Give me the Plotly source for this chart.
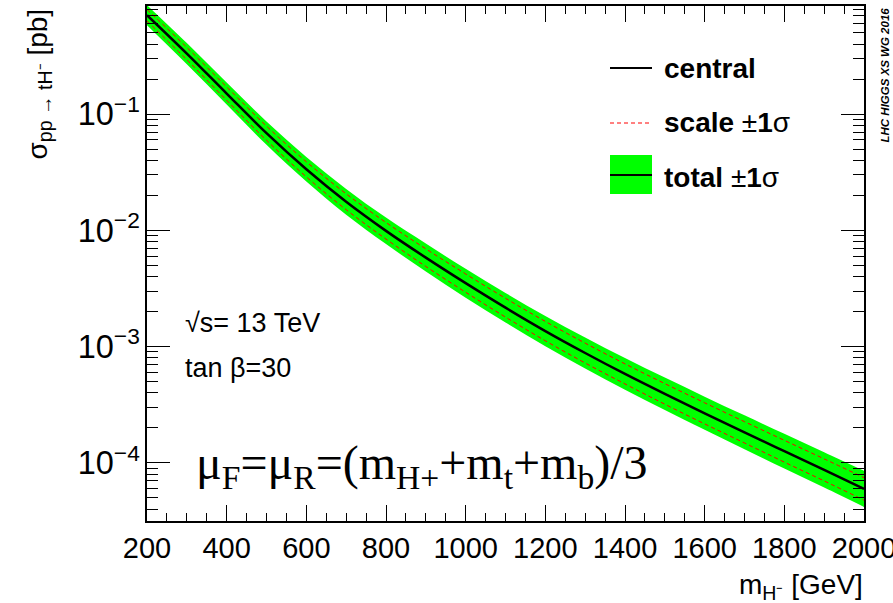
import plotly.graph_objects as go

# ---- data ----
mass = [200, 300, 400, 500, 600, 700, 800, 900, 1000, 1100, 1200, 1300,
        1400, 1500, 1600, 1700, 1800, 1900, 2000]
central = [0.708, 0.331, 0.150, 0.0684, 0.0335, 0.0176, 0.00989, 0.00582,
           0.00351, 0.00216, 0.00136, 0.000881, 0.000582, 0.000392,
           0.000267, 0.000183, 0.000126, 0.0000869, 0.0000597]
# relative uncertainties in percent
total_up_pct = [22, 23, 24.5, 26, 27.5, 29, 30, 32, 33, 34, 35, 36, 37, 38,
                39, 40, 41, 42, 43]
total_dn_pct = [18, 19, 19.5, 20.5, 21.5, 22.5, 23, 24, 25, 25.5, 26, 26.5,
                27, 27.5, 28, 28.5, 29, 29.5, 30]
scale_up_pct = [12, 13, 14, 15, 16, 17, 18, 19, 20, 20.5, 21, 21.5, 22,
                22.5, 23, 23.5, 24, 24.5, 25]
scale_dn_pct = [11, 11.5, 12.5, 13, 14, 14.5, 15, 16, 16.5, 17, 17.5, 18,
                18, 18.5, 19, 19, 19.5, 19.5, 20]

x_ticks = [200, 400, 600, 800, 1000, 1200, 1400, 1600, 1800, 2000]
legend_labels = ["<b>central</b>", "<b>scale</b> ±<b>1</b>σ", "<b>total</b> ±<b>1</b>σ"]

tot_up = [c * (1 + u / 100) for c, u in zip(central, total_up_pct)]
tot_dn = [c * (1 - d / 100) for c, d in zip(central, total_dn_pct)]
sc_up = [c * (1 + u / 100) for c, u in zip(central, scale_up_pct)]
sc_dn = [c * (1 - d / 100) for c, d in zip(central, scale_dn_pct)]

GREEN = "#00ff00"
RED = "#ff0000"
FONT = "Liberation Sans, Arial, sans-serif"

fig = go.Figure()
fig.add_trace(go.Scatter(x=mass, y=tot_dn, mode="lines", line=dict(width=0, shape="spline"),
                         hoverinfo="skip", showlegend=False))
fig.add_trace(go.Scatter(x=mass, y=tot_up, mode="lines", line=dict(width=0, shape="spline"),
                         fill="tonexty", fillcolor=GREEN, showlegend=False))
for ys in (sc_up, sc_dn):
    fig.add_trace(go.Scatter(x=mass, y=ys, mode="lines",
                             line=dict(color=RED, width=1, dash="4px,3px", shape="spline"),
                             showlegend=False))
fig.add_trace(go.Scatter(x=mass, y=central, mode="lines",
                         line=dict(color="black", width=2.5, shape="spline"),
                         showlegend=False))

L, R, T, B = 147, 29, 6, 82
W, H = 893, 603
pw, ph = W - L - R, H - T - B


def px(x):
    return (x - L) / pw


def py(y):
    return (H - B - y) / ph


fig.update_layout(
    width=W, height=H,
    margin=dict(l=L, r=R, t=T, b=B, autoexpand=False),
    paper_bgcolor="white", plot_bgcolor="white",
    showlegend=False,
    font=dict(family=FONT, color="black", size=28),
)
fig.update_xaxes(
    range=[200, 2000], tickvals=x_ticks, ticks="inside", ticklen=16, tickwidth=1,
    tickcolor="black", showline=True, linecolor="black", linewidth=2,
    mirror="ticks", showgrid=False, zeroline=False, ticklabeloverflow="allow",
    automargin=False,
    tickfont=dict(size=29, family=FONT),
    minor=dict(dtick=50, ticks="inside", ticklen=8, tickcolor="black", tickwidth=1, showgrid=False),
)
fig.update_yaxes(
    type="log", range=[-4.5, -0.071], dtick=1, exponentformat="power",
    showexponent="all", ticks="inside", ticklen=23, tickwidth=1,
    tickcolor="black", showline=True, linecolor="black", linewidth=2,
    mirror="ticks", showgrid=False, zeroline=False, automargin=False,
    tickfont=dict(size=26, family=FONT),
    minor=dict(dtick="D1", ticks="inside", ticklen=11, tickcolor="black", tickwidth=1, showgrid=False),
)

shapes = []
ann = []
# legend
lx0, lx1 = px(610), px(652)
shapes.append(dict(type="line", xref="paper", yref="paper", x0=lx0, x1=lx1,
                   y0=py(68), y1=py(68), line=dict(color="black", width=2)))
shapes.append(dict(type="line", xref="paper", yref="paper", x0=lx0, x1=lx1,
                   y0=py(123), y1=py(123), line=dict(color=RED, width=1, dash="4px,3px")))
shapes.append(dict(type="rect", xref="paper", yref="paper", x0=lx0, x1=lx1,
                   y0=py(194), y1=py(155), fillcolor=GREEN, line=dict(width=0)))
shapes.append(dict(type="line", xref="paper", yref="paper", x0=lx0, x1=lx1,
                   y0=py(175), y1=py(175), line=dict(color="black", width=2)))
for lab, yy in zip(legend_labels, [68, 123, 177]):
    ann.append(dict(xref="paper", yref="paper", x=px(662), y=py(yy), xanchor="left",
                    yanchor="middle", showarrow=False, text=lab,
                    font=dict(size=28, family=FONT)))

ann.append(dict(xref="paper", yref="paper", x=px(183), y=py(323), xanchor="left",
                yanchor="middle", showarrow=False, text="√s= 13 TeV",
                font=dict(size=27, family=FONT)))
ann.append(dict(xref="paper", yref="paper", x=px(183), y=py(368), xanchor="left",
                yanchor="middle", showarrow=False, text="tan β=30",
                font=dict(size=27, family=FONT)))
ann.append(dict(xref="paper", yref="paper", x=px(194), y=py(466), xanchor="left",
                yanchor="middle", showarrow=False,
                text="μ<sub>F</sub>=μ<sub>R</sub>=(m<sub>H+</sub>+m<sub>t</sub>+m<sub>b</sub>)/3",
                font=dict(size=48, family="Liberation Serif, Times New Roman, serif")))
# axis titles
ann.append(dict(xref="paper", yref="paper", x=px(39), y=py(7), xanchor="center",
                yanchor="top", showarrow=False, textangle=-90,
                text="σ<sub>pp → tH⁻</sub> [pb]", font=dict(size=28, family=FONT)))
ann.append(dict(xref="paper", yref="paper", x=px(865), y=py(586), xanchor="right",
                yanchor="middle", showarrow=False,
                text="m<sub>H⁻</sub> [GeV]", font=dict(size=28, family=FONT)))
ann.append(dict(xref="paper", yref="paper", x=px(885), y=py(5), xanchor="center",
                yanchor="top", showarrow=False, textangle=-90,
                text="<b><i>LHC HIGGS XS WG 2016</i></b>", font=dict(size=11.5, family=FONT)))

fig.update_layout(shapes=shapes, annotations=ann)
fig.write_html("out.html", config={"displayModeBar": False},
               post_script="document.body.style.margin='0px';document.body.style.overflow='hidden';")
